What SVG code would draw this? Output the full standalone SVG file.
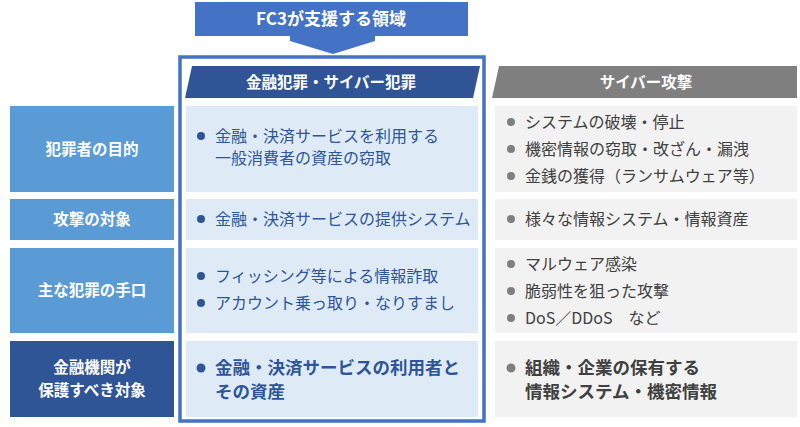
<svg xmlns="http://www.w3.org/2000/svg" width="800" height="427" viewBox="0 0 800 427">
<style>
text{font-family:"Noto Sans CJK JP","Noto Sans",sans-serif}
.lab{fill:#5B9BD5}.mid{fill:#DEEBF7}.rt{fill:#F2F2F2}
.lt{fill:#fff;font-size:15.5px;font-weight:bold;text-anchor:middle}
.mt{fill:#2F5597;font-size:16px}
.rtt{fill:#404040;font-size:16px}
.big{font-size:17.5px;font-weight:bold}
.bm{fill:#2F5597}.bg{fill:#7F7F7F}
</style>
<g id="top">
<rect x="195" y="2" width="273" height="34" fill="#4472C4"/>
<text x="331" y="25" fill="#fff" font-size="17" font-weight="bold" text-anchor="middle">FC3が支援する領域</text>
<polygon points="290,36 375,36 375,41 333,54 290,41" fill="#4472C4"/>
</g>
<g id="hdr-mid"><polygon points="192,66 480,66 473,98 185,98" fill="#2F5597"/><text x="331" y="88" class="lt">金融犯罪・サイバー犯罪</text></g>
<g id="hdr-rt"><polygon points="499,66 797,66 797,98 492,98" fill="#7F7F7F"/><text x="646" y="88" class="lt">サイバー攻撃</text></g>
<g id="row1">
<rect x="10" y="106" width="164" height="86" class="lab"/><text x="92" y="155" class="lt">犯罪者の目的</text>
<rect x="186" y="106" width="292" height="86" class="mid"/>
<circle cx="201" cy="136" r="4" class="bm"/><text x="215" y="142" class="mt">金融・決済サービスを利用する</text><text x="215" y="164" class="mt">一般消費者の資産の窃取</text>
<rect x="495" y="106" width="302" height="86" class="rt"/>
<circle cx="511" cy="122" r="4" class="bg"/><text x="525" y="128" class="rtt">システムの破壊・停止</text>
<circle cx="511" cy="149" r="4" class="bg"/><text x="525" y="155" class="rtt">機密情報の窃取・改ざん・漏洩</text>
<circle cx="511" cy="176" r="4" class="bg"/><text x="525" y="182" class="rtt">金銭の獲得（ランサムウェア等）</text>
</g>
<g id="row2">
<rect x="10" y="199" width="164" height="41" class="lab"/><text x="92" y="225" class="lt">攻撃の対象</text>
<rect x="186" y="199" width="292" height="41" class="mid"/>
<circle cx="201" cy="219" r="4" class="bm"/><text x="215" y="225" class="mt">金融・決済サービスの提供システム</text>
<rect x="495" y="199" width="302" height="41" class="rt"/>
<circle cx="511" cy="219" r="4" class="bg"/><text x="525" y="225" class="rtt">様々な情報システム・情報資産</text>
</g>
<g id="row3">
<rect x="10" y="248" width="164" height="85" class="lab"/><text x="92" y="296" class="lt">主な犯罪の手口</text>
<rect x="186" y="248" width="292" height="85" class="mid"/>
<circle cx="201" cy="276" r="4" class="bm"/><text x="215" y="282" class="mt">フィッシング等による情報詐取</text>
<circle cx="201" cy="303" r="4" class="bm"/><text x="215" y="309" class="mt">アカウント乗っ取り・なりすまし</text>
<rect x="495" y="248" width="302" height="85" class="rt"/>
<circle cx="511" cy="264" r="4" class="bg"/><text x="525" y="270" class="rtt">マルウェア感染</text>
<circle cx="511" cy="291" r="4" class="bg"/><text x="525" y="297" class="rtt">脆弱性を狙った攻撃</text>
<circle cx="511" cy="318" r="4" class="bg"/><text x="525" y="324" class="rtt">DoS／DDoS　など</text>
</g>
<g id="row4">
<rect x="10" y="341" width="164" height="76" fill="#2F5597"/><text x="92" y="373" class="lt">金融機関が</text><text x="92" y="396" class="lt">保護すべき対象</text>
<rect x="186" y="341" width="292" height="76" class="mid"/>
<circle cx="201" cy="368" r="4.5" class="bm"/><text x="215" y="374" class="mt big">金融・決済サービスの利用者と</text><text x="215" y="398" class="mt big">その資産</text>
<rect x="495" y="341" width="302" height="76" class="rt"/>
<circle cx="511" cy="368" r="4.5" class="bg"/><text x="525" y="374" class="rtt big">組織・企業の保有する</text><text x="525" y="398" class="rtt big">情報システム・機密情報</text>
</g>
<g id="frame"><rect x="180" y="57" width="304" height="364" fill="none" stroke="#4472C4" stroke-width="3.5"/></g>
</svg>
